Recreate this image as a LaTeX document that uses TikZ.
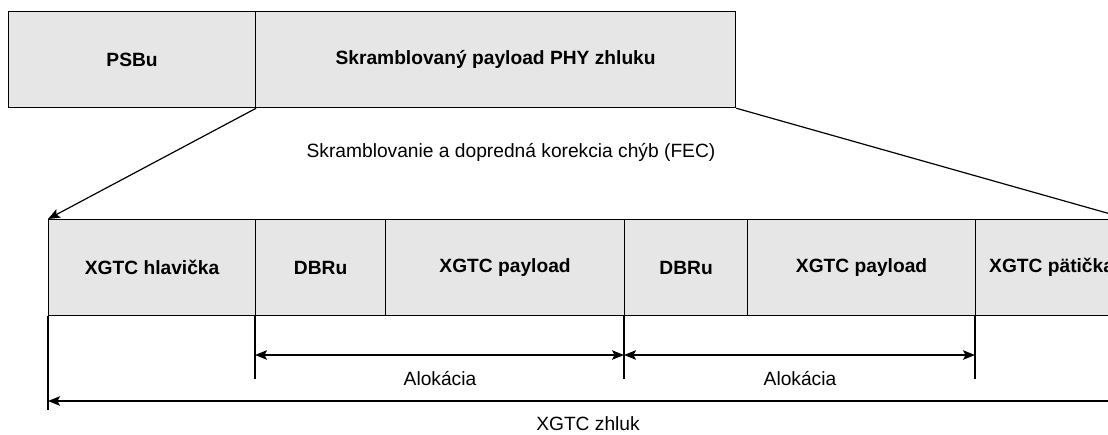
\documentclass[tikz,border=0pt]{standalone}
\usepackage{fontspec}
\setmainfont{Liberation Sans}
\usetikzlibrary{arrows.meta}
\definecolor{boxgray}{HTML}{E6E6E6}
\begin{document}
\begin{tikzpicture}[x=1pt,y=-1pt,line width=1.2pt,
  box/.style={draw, fill=boxgray, inner sep=0pt, anchor=north west,
    minimum height=96pt, font=\bfseries\fontsize{19.2}{23}\selectfont},
  lbl/.style={font=\fontsize{19.2}{23}\selectfont, inner sep=0pt},
  tip/.style={-{Stealth[length=12pt,width=9.5pt,inset=2.5pt]}},
  dim/.style={{Stealth[length=12pt,width=9.5pt,inset=2.5pt]}-{Stealth[length=12pt,width=9.5pt,inset=2.5pt]}}]
\useasboundingbox (0,0) rectangle (1108,434);
\clip (0,0) rectangle (1108,434);
% top row
\node[box, minimum width=247pt] (psbu) at (8,11) {PSBu};
\node[box, minimum width=480pt] (pay) at (255,11) {Skramblovaný payload PHY zhluku};
% bottom row
\node[box, minimum width=207pt] (hdr) at (48,219) {XGTC hlavička};
\node[box, minimum width=130pt] (dbr1) at (255,219) {DBRu};
\node[box, minimum width=239pt] (xp1) at (385,219) {XGTC payload};
\node[box, minimum width=123pt] (dbr2) at (624,219) {DBRu};
\node[box, minimum width=228pt] (xp2) at (747,219) {XGTC payload};
\node[box, minimum width=152pt] (foot) at (975,219) {XGTC pätička};
% expansion lines
\draw[tip] (psbu.south east) -- (hdr.north west);
\draw[tip] (pay.south east) -- (foot.north east);
\node[lbl] (fec) at (511,152) {Skramblovanie a dopredná korekcia chýb (FEC)};
% extension lines
\coordinate (e0) at (48,410);
\coordinate (e1) at (255,379);
\coordinate (e2) at (624,379);
\coordinate (e3) at (975,379);
\coordinate (e4) at (1127,410);
\draw (hdr.south west) -- (e0);
\draw (dbr1.south west) -- (e1);
\draw (dbr2.south west) -- (e2);
\draw (foot.south west) -- (e3);
\draw (foot.south east) -- (e4);
% dimension arrows
\coordinate (a1) at (255,355);
\coordinate (a2) at (624,355);
\coordinate (a3) at (975,355);
\coordinate (b0) at (48,401);
\coordinate (b1) at (1127,401);
\draw[dim] (a1) -- (a2);
\draw[dim] (a2) -- (a3);
\draw[dim] (b0) -- (b1);
\node[lbl] (al1) at (440,379) {Alokácia};
\node[lbl] (al2) at (800,379) {Alokácia};
\node[lbl] (zh) at (588,424) {XGTC zhluk};
\end{tikzpicture}
\end{document}
